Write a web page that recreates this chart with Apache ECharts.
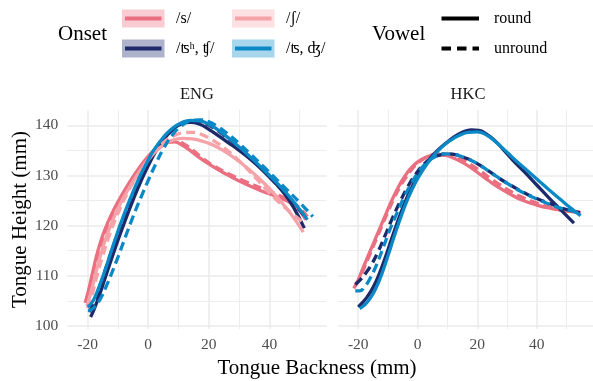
<!DOCTYPE html>
<html><head><meta charset="utf-8">
<script src="https://cdn.jsdelivr.net/npm/echarts@6/dist/echarts.min.js"></script>
<style>html,body{margin:0;padding:0;background:#fff}#c{width:593px;height:381px}</style>
</head><body><div id="c"></div>
<script>
// ---- labels & ticks ----
const panels = ['ENG', 'HKC'];
const onsets = ['/s/', '/ʦʰ, ʧ/', '/ʃ/', '/ʦ, ʤ/'];
const vowels = ['round', 'unround'];
const xTicks = [-20, 0, 20, 40];
const xMinor = [-10, 10, 30, 50];
const yTicks = [100, 110, 120, 130, 140];
const yMinor = [105, 115, 125, 135];

// ---- ENG curves [backness, height] ----
const ENG_s_round = [[-20.8,104.6],[-19.5,107.6],[-18,111.6],[-16.5,115.2],[-14.5,118.9],[-12,122.4],[-9,125.8],[-6,128.8],[-3,131.5],[0,133.8],[3,135.6],[6,136.6],[8.5,136.7],[11,136.1],[14,134.9],[17,133.5],[20,132.3],[25,130.5],[30,128.9],[37,127.0],[44,125.4],[48.5,123.9],[52,121.2]];
const ENG_s_unround = [[-20.5,105],[-19,108.2],[-17.5,111.8],[-15.5,115.8],[-13.5,119.2],[-11,122.6],[-8,126.1],[-5,129.1],[-2,131.7],[1,134],[4,135.7],[7,136.7],[9.5,136.8],[12,136.2],[15,134.9],[18,133.4],[22,131.8],[27,130.2],[32,128.8],[38,127.3],[44,125.8],[48.5,124.3],[52.5,121.8]];
const ENG_sh_round = [[-20.2,104],[-18.5,107.6],[-17,111.3],[-15,115.6],[-12.5,119.9],[-9.5,124],[-6.5,127.3],[-3.5,130.2],[-0.5,132.7],[2.5,134.8],[5.5,136.3],[8.5,137.1],[11.5,137.4],[14.5,137.3],[17.5,136.9],[20.5,136.3],[23.5,135.4],[26.5,134.3],[29.5,133.0],[32.5,131.6],[35.5,130.0],[38.5,128.3],[41.5,126.4],[44.5,124.3],[47.5,122.0],[51.2,118.7]];
const ENG_sh_unround = [[-20,103.5],[-18.5,106.3],[-17,109.8],[-15,114],[-12.5,118.6],[-9.5,123.1],[-6.5,126.9],[-3.5,130.1],[-0.5,132.8],[2.5,135],[5.5,136.8],[8.5,137.9],[11.5,138.5],[14.5,138.6],[17.5,138.2],[20.5,137.3],[23.5,136.2],[26.5,134.8],[29.5,133.2],[32.5,131.4],[35.5,129.5],[38.5,127.5],[41.5,125.6],[44.5,123.9],[47.5,122.4],[52,120.2]];
const ENG_tsh_round = [[-19,101.8],[-17.8,103.4],[-16.2,106],[-14.3,109.4],[-12.2,113.2],[-9.8,117.4],[-7.3,121.5],[-4.8,125.4],[-2.3,129],[0.2,132.2],[2.7,135],[5.3,137.3],[8,139.1],[11,140.3],[14,140.6],[17,140.2],[20,139.2],[23,138],[26,136.7],[30,135],[34,133.1],[38,130.9],[42,128.4],[45,126.3],[48,123.6],[51.5,119.5]];
const ENG_tsh_unround = [[-19.5,102.8],[-18,104.7],[-16,107.9],[-14,111.5],[-11.5,116],[-9,120.2],[-6.5,124.2],[-4,127.8],[-1.5,131],[1,133.8],[4,136.6],[7,138.6],[10,140],[13,140.7],[16,140.8],[19,140.3],[22,139.3],[25,138],[29,136.1],[33,134],[37,131.7],[41,129.2],[45,126.6],[49,123.8],[52.5,121.2]];
const ENG_ts_round = [[-20,103.8],[-18.5,104.7],[-17,106.6],[-15,109.8],[-13,113.4],[-10.5,118],[-8,122.2],[-5.5,126],[-3,129.5],[-0.5,132.5],[2,135.2],[5,137.6],[8,139.4],[11,140.5],[14,141],[17,140.9],[20,140.2],[23,139.1],[26,137.7],[30,135.7],[34,133.5],[38,131.2],[42,128.8],[46,126.2],[50,123.2],[52.5,121.2]];
const ENG_ts_unround = [[-19.8,103],[-18,103.6],[-16,105.2],[-14,107.7],[-12,110.6],[-10,113.7],[-7.5,117.8],[-5,121.8],[-2.5,125.5],[0,129],[2.5,132.3],[5,135.3],[8,138.1],[11,139.9],[14,140.9],[17,141.1],[20,140.7],[23,139.7],[26,138.4],[30,136.4],[34,134.1],[38,131.8],[42,129.4],[46,127],[50,124.6],[54.3,121.8]];

// ---- HKC curves [backness, height] ----
const HKC_s_round = [[-21.5,107.5],[-20,109.2],[-18.5,111.4],[-16.5,114.2],[-14.5,117],[-12.5,119.8],[-10.5,122.6],[-8.5,125.3],[-6.5,127.7],[-4.5,129.7],[-2.5,131.3],[0,132.7],[3,133.7],[6,134.1],[9,134],[12,133.5],[15,132.6],[18,131.5],[21,130.2],[24,128.9],[27,127.7],[31,126.3],[35,125.1],[40,124.1],[45,123.4],[50,122.9],[54.8,122.6]];
const HKC_s_unround = [[-21,108],[-19.5,109.6],[-18,111.6],[-16,114.4],[-14,117.2],[-12,120],[-10,122.8],[-8,125.4],[-6,127.7],[-4,129.6],[-2,131.2],[0.5,132.7],[3.5,133.8],[6.5,134.3],[9.5,134.3],[12.5,133.8],[15.5,133],[18.5,131.9],[21.5,130.7],[24.5,129.4],[27.5,128.2],[31,126.9],[35,125.7],[40,124.5],[45,123.6],[50,123],[54.5,122.7]];
const HKC_tsh_round = [[-20,103.8],[-19,104.4],[-17,105.8],[-15,107.7],[-13,110.3],[-11,113.5],[-9,117],[-7,120.4],[-5,123.6],[-3,126.4],[-1,128.8],[1.5,131.3],[4,133.3],[6.5,134.9],[9,136.2],[12,137.6],[15,138.6],[18,139.1],[20.5,139],[23,138.3],[26,136.9],[29,135],[32,133],[36,130.6],[40,128.1],[44,125.6],[48,123.2],[52.5,120.5]];
const HKC_tsh_unround = [[-21,108.3],[-19.5,109.1],[-17.5,110.5],[-15.5,112.3],[-13.5,114.6],[-11,118],[-8.5,121.5],[-6,124.7],[-3.5,127.6],[-1,130],[1.5,131.9],[4,133.2],[7,134],[10,134.3],[13,134.1],[16,133.5],[19,132.7],[22,131.6],[25,130.4],[28,129.2],[32,127.8],[36,126.5],[40,125.4],[44,124.5],[48,123.6],[52,122.9],[54.5,122.6]];
const HKC_ts_round = [[-19.5,103.5],[-18,104.1],[-16,105.5],[-14,107.6],[-12,110.5],[-10,114],[-8,117.7],[-6,121.2],[-4,124.4],[-2,127.1],[0,129.4],[2.5,131.8],[5,133.7],[8,135.6],[11,137],[14,138],[17,138.6],[20,138.7],[23,138.1],[26,136.8],[29,135.2],[32,133.5],[36,131.4],[40,129.3],[44,127.2],[48,125.2],[51,123.7],[54.7,122]];
const HKC_ts_unround = [[-21,107],[-19.5,107],[-18,107.7],[-16,109.5],[-14,112],[-12,115],[-9.5,119],[-7,122.5],[-4.5,125.8],[-2,128.6],[0.5,130.9],[3,132.6],[6,133.8],[9,134.3],[12,134.2],[15,133.7],[18,133],[21,132],[24,130.8],[27,129.6],[31,128.1],[35,126.7],[40,125.3],[44,124.3],[48,123.5],[52,122.9],[55,122.4]];

// panel -> onset -> [round, unround]
const curves = {
  ENG: [[ENG_s_round, ENG_s_unround], [ENG_tsh_round, ENG_tsh_unround], [ENG_sh_round, ENG_sh_unround], [ENG_ts_round, ENG_ts_unround]],
  HKC: [[HKC_s_round, HKC_s_unround], [HKC_tsh_round, HKC_tsh_unround], null, [HKC_ts_round, HKC_ts_unround]]
};

// ---- style ----
const colors = ['#EA6F80', '#1C2A6B', '#F5A2A8', '#0A89C6'];
const fills = ['#F8CCD2', '#AEB3CB', '#FCE0E2', '#A8D6EC'];
const SERIF = "'Liberation Serif','DejaVu Serif',serif";
const GRID = '#EBEBEB';

const gridLines = {
  silent: true, z: 0, symbol: ['none', 'none'], animation: false,
  label: { show: false }, emphasis: { disabled: true },
  data: [].concat(
    xTicks.map(v => ({ xAxis: v, lineStyle: { color: GRID, width: 1.5, type: 'solid' } })),
    xMinor.map(v => ({ xAxis: v, lineStyle: { color: GRID, width: 0.9, type: 'solid' } })),
    yTicks.map(v => ({ yAxis: v, lineStyle: { color: GRID, width: 1.5, type: 'solid' } })),
    yMinor.map(v => ({ yAxis: v, lineStyle: { color: GRID, width: 0.9, type: 'solid' } }))
  )
};

const series = [];
panels.forEach((p, pi) => {
  let first = true;
  curves[p].forEach((pair, oi) => {
    if (!pair) return;
    pair.forEach((d, vi) => {
      const s = {
        type: 'line', name: onsets[oi] + ' ' + vowels[vi],
        xAxisIndex: pi, yAxisIndex: pi, data: d,
        smooth: 0.5, showSymbol: false, symbol: 'none',
        silent: true, animation: false, z: 2,
        lineStyle: { color: colors[oi], width: 3.3, type: vi === 0 ? 'solid' : [9, 5], cap: 'butt', join: 'round' }
      };
      if (first) { s.markLine = gridLines; first = false; }
      series.push(s);
    });
  });
});

const axisX = (i) => ({
  type: 'value', gridIndex: i, min: -26.7, max: 58.9,
  splitLine: { show: false }, axisLine: { show: false }, axisTick: { show: false },
  axisLabel: { customValues: xTicks, color: '#4D4D4D', fontSize: 15.5, fontFamily: SERIF, margin: 8 }
});
const axisY = (i) => ({
  type: 'value', gridIndex: i, min: 99.4, max: 143.05,
  splitLine: { show: false }, axisLine: { show: false }, axisTick: { show: false },
  axisLabel: { show: i === 0, customValues: yTicks, color: '#4D4D4D', fontSize: 15.5, fontFamily: SERIF, margin: 9 }
});

const txt = (text, x, y, size, extra) => Object.assign({
  type: 'text', x: x, y: y, silent: true,
  style: { text: text, fontSize: size, fontFamily: SERIF, fill: '#000', align: 'left', verticalAlign: 'middle' }
}, extra || {});

const graphic = [];
// strip labels
graphic.push(txt('ENG', 197, 95, 16.5, { style: { text: 'ENG', fontSize: 16.5, fontFamily: SERIF, fill: '#1A1A1A', align: 'center', verticalAlign: 'middle' } }));
graphic.push(txt('HKC', 468, 95, 16.5, { style: { text: 'HKC', fontSize: 16.5, fontFamily: SERIF, fill: '#1A1A1A', align: 'center', verticalAlign: 'middle' } }));
// axis titles
graphic.push(txt('Tongue Backness (mm)', 317, 368, 21, { style: { text: 'Tongue Backness (mm)', fontSize: 21, fontFamily: SERIF, fill: '#000', align: 'center', verticalAlign: 'middle' } }));
graphic.push(txt('Tongue Height (mm)', 20, 219.5, 21, { rotation: Math.PI / 2, style: { text: 'Tongue Height (mm)', fontSize: 21, fontFamily: SERIF, fill: '#000', align: 'center', verticalAlign: 'middle' } }));
// legend: Onset
graphic.push(txt('Onset', 58, 34, 21));
const rowY = [18.5, 48.5];
const colX = [122, 232];
const legPos = [[0, 0], [1, 0], [0, 1], [1, 1]]; // [row, col] for onset order
onsets.forEach((o, i) => {
  const r = legPos[i][0], c = legPos[i][1];
  const x0 = colX[c], yc = rowY[r];
  graphic.push({ type: 'rect', silent: true, shape: { x: x0, y: yc - 9, width: 42.5, height: 18 }, style: { fill: fills[i] } });
  graphic.push({ type: 'line', silent: true, shape: { x1: x0 + 3, y1: yc, x2: x0 + 39.5, y2: yc }, style: { stroke: colors[i], lineWidth: 4 } });
  graphic.push(txt(o, x0 + 54, yc, 16));
});
// legend: Vowel
graphic.push(txt('Vowel', 372, 34, 21));
graphic.push({ type: 'line', silent: true, shape: { x1: 441.5, y1: rowY[0], x2: 479, y2: rowY[0] }, style: { stroke: '#000', lineWidth: 4 } });
graphic.push({ type: 'line', silent: true, shape: { x1: 441.5, y1: rowY[1], x2: 479, y2: rowY[1] }, style: { stroke: '#000', lineWidth: 4, lineDash: [9.5, 6] } });
graphic.push(txt(vowels[0], 494, rowY[0], 16));
graphic.push(txt(vowels[1], 494, rowY[1], 16));

const chart = echarts.init(document.getElementById('c'), null, { renderer: 'canvas' });
chart.setOption({
  animation: false,
  backgroundColor: '#fff',
  grid: [
    { left: 67.3, top: 110, width: 259.4, height: 219 },
    { left: 338.3, top: 110, width: 259.4, height: 219 }
  ],
  xAxis: [axisX(0), axisX(1)],
  yAxis: [axisY(0), axisY(1)],
  series: series,
  graphic: graphic
});
</script></body></html>
